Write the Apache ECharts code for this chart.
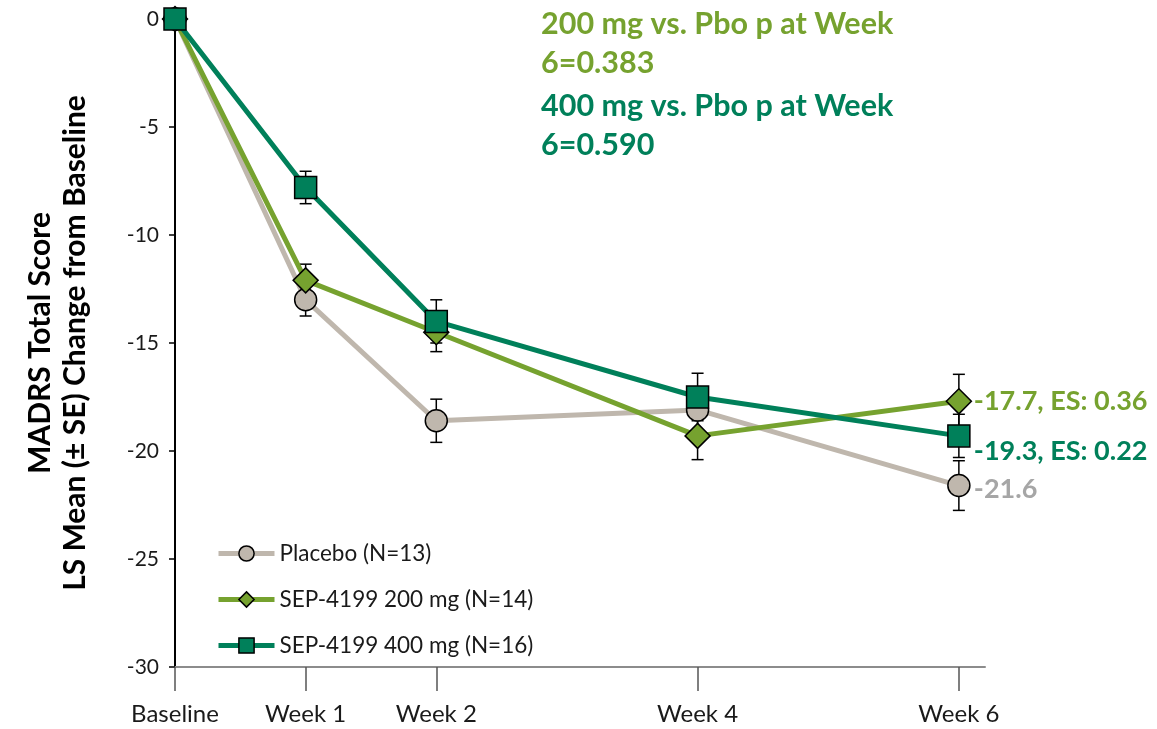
<!DOCTYPE html>
<html><head><meta charset="utf-8">
<script src="https://cdn.jsdelivr.net/npm/echarts@6/dist/echarts.min.js"></script>
<style>html,body{margin:0;padding:0;background:#fff}#c{width:1157px;height:729px}</style>
</head><body><div id="c"></div>
<script>
const weeks = [0, 1, 2, 4, 6];
const weekLabels = ['Baseline', 'Week 1', 'Week 2', 'Week 4', 'Week 6'];

const seriesNames = ['Placebo (N=13)', 'SEP-4199 200 mg (N=14)', 'SEP-4199 400 mg (N=16)'];
const placebo = [0, -13.0, -18.6, -18.1, -21.6];
const mg200 = [0, -12.1, -14.5, -19.3, -17.7];
const mg400 = [0, -7.8, -14.0, -17.5, -19.3];
const sePlacebo = [0, 0.75, 1.0, 1.0, 1.15];
const se200 = [0, 0.75, 0.9, 1.1, 1.25];
const se400 = [0, 0.75, 1.0, 1.1, 1.0];
const endText = ['-21.6', '-17.7, ES: 0.36', '-19.3, ES: 0.22'];
const annotations = ['200 mg vs. Pbo p at Week', '6=0.383', '400 mg vs. Pbo p at Week', '6=0.590'];
const yTitle = ['MADRS Total Score', 'LS Mean (± SE) Change from Baseline'];

const colors = ['#BFB7AD', '#76A22F', '#00805A'];
const labelColors = ['#A6A6A6', '#76A22F', '#00805A'];
const symbols = ['circle', 'diamond', 'rect'];
const symbolSizes = [22, 25, 22];
const endOffsets = [[0, 4], [0, 0], [0, 15]];
const FONT = 'Lato';

const vals = [placebo, mg200, mg400];
const ses = [sePlacebo, se200, se400];

const chart = echarts.init(document.getElementById('c'), null, {renderer: 'canvas'});

const lineSeries = vals.map((v, i) => ({
  name: seriesNames[i],
  type: 'line',
  data: weeks.map((w, j) => [w, v[j]]),
  symbol: symbols[i],
  symbolSize: symbolSizes[i],
  lineStyle: {color: colors[i], width: 5},
  itemStyle: {color: colors[i], borderColor: '#000', borderWidth: 1.5},
  z: 10 + i,
  clip: false,
  endLabel: {
    show: true,
    formatter: () => endText[i],
    color: labelColors[i],
    fontFamily: FONT,
    fontWeight: 'bold',
    fontSize: 27,
    distance: 15,
    offset: endOffsets[i]
  }
}));

const errSeries = {
  type: 'custom',
  z: 5,
  silent: true,
  clip: false,
  data: [].concat(...vals.map((v, i) => weeks.map((w, j) => [w, v[j] - ses[i][j], v[j] + ses[i][j]]))),
  renderItem: function (params, api) {
    const x = api.value(0);
    const lo = api.coord([x, api.value(1)]);
    const hi = api.coord([x, api.value(2)]);
    if (Math.abs(lo[1] - hi[1]) < 1) return null;
    const hw = 6;
    const st = {stroke: '#000', lineWidth: 1.5};
    return {
      type: 'group',
      children: [
        {type: 'line', shape: {x1: lo[0], y1: lo[1], x2: hi[0], y2: hi[1]}, style: st},
        {type: 'line', shape: {x1: lo[0] - hw, y1: lo[1], x2: lo[0] + hw, y2: lo[1]}, style: st},
        {type: 'line', shape: {x1: hi[0] - hw, y1: hi[1], x2: hi[0] + hw, y2: hi[1]}, style: st}
      ]
    };
  },
  encode: {x: 0, y: [1, 2]}
};

const annY = [24, 63, 106, 145];
const annC = [labelColors[1], labelColors[1], labelColors[2], labelColors[2]];

const graphics = annotations.map((t, k) => ({
  type: 'text', x: 541, y: annY[k],
  style: {text: t, fill: annC[k], font: 'bold 30.5px ' + FONT, textVerticalAlign: 'middle'}
}));
yTitle.forEach((t, k) => graphics.push({
  type: 'text', x: [40, 75][k], y: 343, rotation: Math.PI / 2,
  style: {text: t, fill: '#000', font: 'bold 30px ' + FONT, textAlign: 'center', textVerticalAlign: 'middle'}
}));

chart.setOption({
  animation: false,
  backgroundColor: '#fff',
  grid: {left: 175, right: 172, top: 19, bottom: 62, containLabel: false, outerBoundsMode: 'none'},
  xAxis: {
    type: 'value',
    min: 0, max: 6.2,
    interval: 1,
    splitLine: {show: false},
    axisLine: {show: true, onZero: false, lineStyle: {color: '#8C8C8C', width: 2}},
    axisTick: {show: true, length: 24, customValues: weeks, lineStyle: {color: '#555', width: 1.5}},
    axisLabel: {
      customValues: weeks,
      formatter: v => weekLabels[weeks.indexOf(v)],
      color: '#1a1a1a', fontSize: 24, fontFamily: FONT, margin: 35
    }
  },
  yAxis: {
    type: 'value',
    min: -30, max: 0, interval: 5,
    splitLine: {show: false},
    axisLine: {show: true, onZero: false, lineStyle: {color: '#000', width: 2}},
    axisTick: {show: true, length: 6, lineStyle: {color: '#000', width: 1.5}},
    axisLabel: {color: '#1a1a1a', fontSize: 21, fontFamily: FONT, margin: 16}
  },
  legend: {
    orient: 'vertical',
    left: 211, top: 537,
    itemWidth: 56, itemHeight: 19,
    itemGap: 23,
    data: seriesNames,
    textStyle: {fontSize: 22.5, fontFamily: FONT, color: '#1a1a1a'},
    itemStyle: {borderColor: '#000', borderWidth: 1.5},
    lineStyle: {width: 5}
  },
  graphic: graphics,
  series: [...lineSeries, errSeries]
});
</script></body></html>
